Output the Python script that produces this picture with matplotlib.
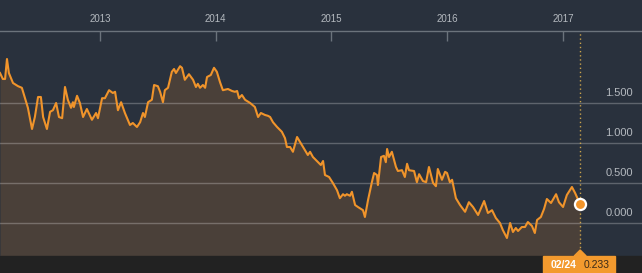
import numpy as np
import pandas as pd
import matplotlib
matplotlib.use('Agg')
import matplotlib.pyplot as plt
import matplotlib.dates as mdates
from matplotlib.patches import Rectangle, Polygon

plt.rcParams['font.family'] = ['Liberation Sans', 'DejaVu Sans']

# series
dates = [
    '2012-02-21', '2012-03-01', '2012-03-08', '2012-03-14', '2012-03-20', '2012-04-02', '2012-04-18', '2012-04-30', '2012-05-10', '2012-05-19',
    '2012-06-01', '2012-06-10', '2012-06-20', '2012-06-29', '2012-07-06', '2012-07-18', '2012-07-28', '2012-08-06', '2012-08-16', '2012-08-25',
    '2012-09-04', '2012-09-13', '2012-09-22', '2012-10-02', '2012-10-08', '2012-10-11', '2012-10-21', '2012-10-30', '2012-11-09', '2012-11-21',
    '2012-12-07', '2012-12-20', '2012-12-26', '2013-01-08', '2013-01-17', '2013-01-30', '2013-02-11', '2013-02-18', '2013-02-27', '2013-03-09',
    '2013-03-21', '2013-04-06', '2013-04-15', '2013-04-28', '2013-05-08', '2013-05-17', '2013-05-23', '2013-06-02', '2013-06-14', '2013-06-21',
    '2013-07-03', '2013-07-10', '2013-07-19', '2013-07-25', '2013-08-04', '2013-08-16', '2013-08-23', '2013-08-29', '2013-09-11', '2013-09-17',
    '2013-09-26', '2013-10-09', '2013-10-22', '2013-10-31', '2013-11-06', '2013-11-13', '2013-11-22', '2013-11-29', '2013-12-05', '2013-12-17',
    '2013-12-27', '2014-01-05', '2014-01-15', '2014-01-24', '2014-02-09', '2014-02-22', '2014-03-03', '2014-03-10', '2014-03-16', '2014-03-25',
    '2014-04-04', '2014-04-20', '2014-05-05', '2014-05-15', '2014-05-24', '2014-06-06', '2014-06-15', '2014-06-22', '2014-07-01', '2014-07-14',
    '2014-07-29', '2014-08-08', '2014-08-14', '2014-08-24', '2014-09-02', '2014-09-15', '2014-09-30', '2014-10-10', '2014-10-19', '2014-10-26',
    '2014-11-04', '2014-11-20', '2014-11-29', '2014-12-06', '2014-12-12', '2014-12-25', '2015-01-06', '2015-01-19', '2015-01-28', '2015-02-07',
    '2015-02-13', '2015-02-19', '2015-03-01', '2015-03-07', '2015-03-17', '2015-03-26', '2015-04-11', '2015-04-17', '2015-04-27', '2015-05-09',
    '2015-05-16', '2015-05-25', '2015-05-28', '2015-06-07', '2015-06-16', '2015-06-22', '2015-06-26', '2015-07-02', '2015-07-11', '2015-07-24',
    '2015-07-30', '2015-08-12', '2015-08-21', '2015-08-28', '2015-09-03', '2015-09-19', '2015-09-28', '2015-10-05', '2015-10-17', '2015-10-27',
    '2015-11-05', '2015-11-18', '2015-11-27', '2015-12-03', '2015-12-16', '2015-12-26', '2016-01-01', '2016-01-10', '2016-01-17', '2016-01-29',
    '2016-02-11', '2016-02-27', '2016-03-10', '2016-03-23', '2016-04-08', '2016-04-27', '2016-05-09', '2016-05-22', '2016-06-03', '2016-06-16',
    '2016-06-25', '2016-07-08', '2016-07-18', '2016-07-27', '2016-08-05', '2016-08-12', '2016-08-24', '2016-09-03', '2016-09-12', '2016-09-25',
    '2016-10-04', '2016-10-11', '2016-10-23', '2016-11-02', '2016-11-11', '2016-11-24', '2016-12-10', '2016-12-19', '2017-01-01', '2017-01-13',
    '2017-01-29', '2017-02-08', '2017-02-24',
]
values = [
    1.875, 1.80, 1.80, 2.05, 1.875, 1.75, 1.71, 1.69, 1.56, 1.44,
    1.175, 1.325, 1.575, 1.575, 1.325, 1.175, 1.39, 1.41, 1.50, 1.325,
    1.31, 1.70, 1.54, 1.44, 1.51, 1.45, 1.59, 1.50, 1.325, 1.425,
    1.29, 1.375, 1.31, 1.56, 1.56, 1.66, 1.625, 1.64, 1.41, 1.51,
    1.375, 1.225, 1.25, 1.20, 1.26, 1.375, 1.325, 1.51, 1.54, 1.725,
    1.71, 1.64, 1.51, 1.66, 1.69, 1.89, 1.925, 1.875, 1.96, 1.94,
    1.79, 1.86, 1.79, 1.70, 1.74, 1.69, 1.725, 1.69, 1.825, 1.85,
    1.94, 1.89, 1.76, 1.66, 1.675, 1.65, 1.64, 1.65, 1.56, 1.60,
    1.54, 1.50, 1.45, 1.325, 1.375, 1.35, 1.34, 1.325, 1.26, 1.20,
    1.14, 1.06, 0.95, 0.95, 0.89, 1.075, 0.975, 0.91, 0.85, 0.89,
    0.825, 0.76, 0.725, 0.775, 0.60, 0.575, 0.50, 0.41, 0.31, 0.36,
    0.34, 0.36, 0.34, 0.39, 0.225, 0.20, 0.16, 0.075, 0.29, 0.51,
    0.625, 0.60, 0.475, 0.825, 0.84, 0.76, 0.925, 0.825, 0.89, 0.70,
    0.65, 0.66, 0.575, 0.74, 0.66, 0.65, 0.51, 0.61, 0.525, 0.51,
    0.70, 0.50, 0.46, 0.675, 0.54, 0.64, 0.625, 0.51, 0.54, 0.31,
    0.225, 0.14, 0.26, 0.20, 0.10, 0.275, 0.125, 0.16, 0.0625, 0.0,
    -0.0875, -0.1875, 0.0, -0.1125, -0.0625, -0.10, -0.05, -0.05, 0.0125, -0.0375,
    -0.125, 0.0375, 0.075, 0.175, 0.30, 0.25, 0.36, 0.26, 0.20, 0.35,
    0.45, 0.375, 0.233,
]
y_ticks = [0.0, 0.5, 1.0, 1.5]
y_labels = ['0.000', '0.500', '1.000', '1.500']
years = [2013, 2014, 2015, 2016, 2017]
last_date_label = '02/24'
last_value_label = '0.233'

# colours
bg = '#29313d'
fill_c = '#4a4039'
line_c = '#f0942b'
axis_c = '#6b737c'
text_c = '#b4b9bf'
band_c = '#222222'

W, H = 642, 273
fig = plt.figure(figsize=(W / 100, H / 100), dpi=100, facecolor=bg)
ax = fig.add_axes([0, 17 / H, 1, (256 - 31) / H])
ax.set_facecolor(bg)

x = pd.to_datetime(dates)
ax.fill_between(x, values, -1, color=fill_c, lw=0, zorder=1)
for t in y_ticks:
    ax.axhline(t, color='white', alpha=0.25, lw=1, zorder=2)
ax.plot(x, values, color=line_c, lw=1.5, zorder=3, solid_joinstyle='round')

ax.set_xlim(pd.Timestamp('2012-02-21'), pd.Timestamp('2017-09-07'))
ax.set_ylim(-0.4125, 2.4)

# top date axis
for s in ['left', 'right', 'bottom']:
    ax.spines[s].set_visible(False)
ax.spines['top'].set_color(axis_c)
ax.spines['top'].set_linewidth(1)
ax.xaxis.tick_top()
ax.set_xticks([pd.Timestamp(f'{y}-01-01') for y in years])
ax.set_xticklabels([str(y) for y in years])
ax.tick_params(axis='x', direction='in', length=7, width=1, color=axis_c,
               labelcolor=text_c, labelsize=7, pad=5)
ax.set_yticks([])

# value labels sit just above their grid lines, right side
for t, lab in zip(y_ticks, y_labels):
    ax.text(0.986, t + 0.125, lab, transform=ax.get_yaxis_transform(),
            ha='right', va='center', color=text_c, fontsize=8)

# last point
last_x = x[-1]
last_v = values[-1]
ax.axvline(last_x, color='#c9a24c', ls=(0, (1, 2)), lw=1, zorder=4)
ax.plot([last_x], [last_v], 'o', ms=8, mfc=line_c, mec='white', mew=1.6, zorder=5,
        clip_on=False)

# bottom band with the value tag
fig.patches.append(Rectangle((0, 0), 1, 17 / H, transform=fig.transFigure,
                             color=band_c, zorder=0))
px = ax.transData.transform((mdates.date2num(last_x), last_v))[0]
fx = px / W
fig.patches.append(Rectangle((fx - 37 / W, 0), 72 / W, 17 / H,
                             transform=fig.transFigure, color='#f39a2e', zorder=1))
fig.patches.append(Polygon([(fx - 6 / W, 17 / H), (fx + 6 / W, 17 / H), (fx, 23 / H)],
                           closed=True, transform=fig.transFigure, color='#f39a2e',
                           zorder=1))
fig.text(fx - 17 / W, 8.5 / H, last_date_label, color='white', fontsize=7.5,
         ha='center', va='center', weight='bold')
fig.text(fx + 16 / W, 8.5 / H, last_value_label, color='#3b2a18', fontsize=7.5,
         ha='center', va='center')

fig.savefig('out.png', dpi=100, facecolor=bg)
